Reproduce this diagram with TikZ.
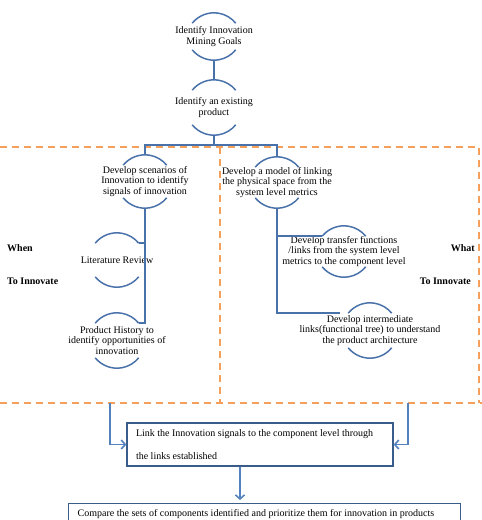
\documentclass[tikz,border=0pt]{standalone}
\usepackage{fontspec}
\setmainfont{Liberation Serif}
\usetikzlibrary{arrows.meta,positioning}
\definecolor{smartblue}{RGB}{74,114,170}
\definecolor{arrowblue}{RGB}{84,130,190}
\definecolor{boxblue}{RGB}{56,93,138}
\definecolor{dashorange}{RGB}{245,160,90}
\tikzset{lens/.style={align=center, inner sep=0pt, minimum width=44pt,
  minimum height=#1, font=\fontsize{10}{10.5}\selectfont},
  lensline/.style={draw=smartblue, line width=1.5pt},
  treeline/.style={draw=smartblue, line width=1.5pt},
  zone/.style={draw=dashorange, line width=1.4pt, dash pattern=on 7pt off 5pt},
  flow/.style={draw=arrowblue, line width=1.6pt,
    -{Straight Barb[length=4pt,width=9pt]}},
  stepbox/.style={draw=boxblue, line width=1.4pt, inner xsep=9pt, align=flush left},
  side/.style={font=\bfseries\fontsize{10}{12}\selectfont, inner sep=0pt}}
\newcommand{\lensarcs}[1]{%
  \draw[lensline] (#1.north) ++(-21.8,-10.4) arc[start angle=141,end angle=39,radius=28pt]
    (#1.south) ++(-21.8,10.4) arc[start angle=219,end angle=321,radius=28pt];}

\begin{document}
\begin{tikzpicture}[x=1pt,y=1pt]
  \useasboundingbox (0,0) rectangle (482,-520);
  % Dashed zones: when (left) and what (right).
  \draw[zone] (0,-147) -- (479,-147) -- (479,-403);
  \draw[zone] (0,-403) -- (482,-403);
  \draw[zone] (220,-147) -- (220,-403);
  \coordinate (whenexit) at (110,-403);
  \coordinate (whatexit) at (408,-403);
  % Top of the tree.
  \node[lens=47pt] (goals) at (214,-36.5) {Identify Innovation\\Mining Goals};
  \node[lens=55pt] (product) at (214,-107.5) {Identify an existing\\product};
  \lensarcs{goals}
  \lensarcs{product}
  \draw[treeline] (goals.south) -- (product.north);
  \draw[treeline] (product.south) -- ++(0,-10) coordinate (split);
  % Left branch.
  \node[lens=53pt] (scenarios) at (145,-181.5) {Develop scenarios of\\Innovation to identify\\signals of innovation};
  \node[lens=54pt] (literature) at (117,-260) {Literature Review};
  \node[lens=55pt] (history) at (117,-340.5) {Product History to\\identify opportunities of\\innovation};
  \lensarcs{scenarios}
  \lensarcs{literature}
  \lensarcs{history}
  % Right branch.
  \node[lens=51pt] (model) at (277,-182.5) {Develop a model of linking\\the physical space from the\\system level metrics};
  \node[lens=51pt] (transfer) at (344,-251.5) {Develop transfer functions\\/links from the system level\\metrics to the component level};
  \node[lens=55pt] (inter) at (370,-330.5) {Develop intermediate\\links(functional tree) to understand\\the product architecture};
  \lensarcs{model}
  \lensarcs{transfer}
  \lensarcs{inter}
  \draw[treeline] (scenarios.north) |- (split) -| (model.north);
  \draw[treeline] (scenarios.south) |- ([shift={(21.8,-10.4)}]literature.north);
  \draw[treeline] (scenarios.south) |- ([shift={(21.8,-10.4)}]history.north);
  \draw[treeline] (model.south) |- ([shift={(-21.8,-10.4)}]transfer.north);
  \draw[treeline] (model.south) |- ([shift={(-30,-10.4)}]inter.north);
  % Side labels.
  \node[side, anchor=west] (when) at (7,-248) {When};
  \node[side, anchor=west] (whento) at (7,-281) {To Innovate};
  \node[side, anchor=east] (what) at (475,-248) {What};
  \node[side, anchor=east] (whatto) at (471,-281) {To Innovate};
  % Bottom boxes.
  \node[stepbox, text width=248pt, minimum height=43pt, font=\fontsize{10}{23}\selectfont]
    (link) at (260,-444.5) {Link the Innovation signals to the component level through\\the links established};
  \node[stepbox, text width=374pt, minimum height=20pt, inner ysep=1pt, anchor=north west,
    font=\fontsize{10}{12}\selectfont]
    (compare) at (68,-503) {Compare the sets of components identified and prioritize them for innovation in products};
  \draw[flow] (whenexit) |- (link.west);
  \draw[flow] (whatexit) |- (link.east);
  \draw[flow, shorten >=3pt] ([xshift=-20pt]link.south) -- ([xshift=-20pt]link.south |- compare.north);
\end{tikzpicture}
\end{document}
